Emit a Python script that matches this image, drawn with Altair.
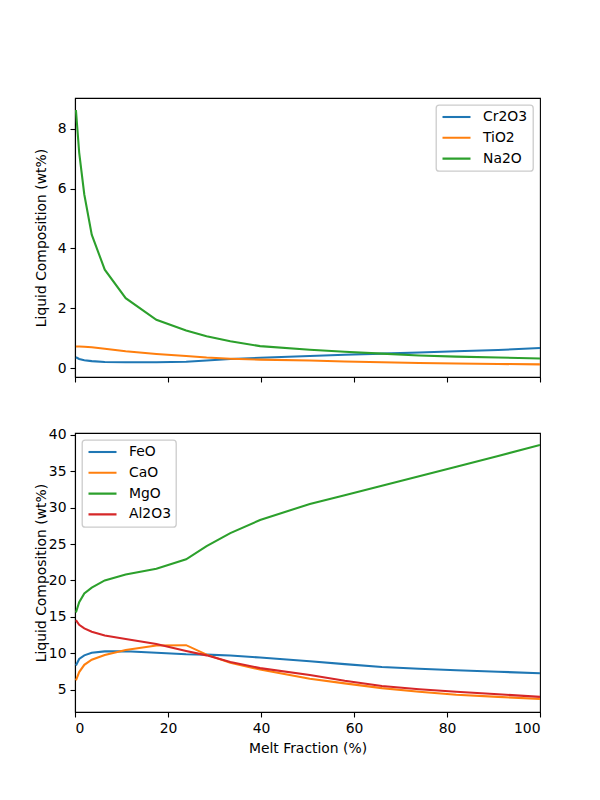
import altair as alt
import pandas as pd

# Melt fraction steps (%) shared by every oxide series
melt = [0.2, 0.9, 2.0, 3.6, 6.4, 10.9, 17.5, 23.9, 28.3, 33.4, 39.8,
        50.5, 58, 66, 74, 82, 91, 100]

# Minor oxides (wt%)
cr2o3 = [0.37, 0.31, 0.27, 0.24, 0.21, 0.20, 0.20, 0.22, 0.26, 0.31, 0.35,
         0.41, 0.45, 0.49, 0.53, 0.57, 0.61, 0.68]
tio2 = [0.73, 0.73, 0.72, 0.70, 0.65, 0.57, 0.48, 0.41, 0.36, 0.32, 0.29,
        0.26, 0.23, 0.20, 0.18, 0.16, 0.145, 0.13]
na2o = [8.62, 7.2, 5.8, 4.46, 3.29, 2.34, 1.62, 1.26, 1.07, 0.90, 0.74,
        0.62, 0.55, 0.49, 0.43, 0.39, 0.36, 0.33]

# Major oxides (wt%)
feo = [8.3, 9.2, 9.7, 10.05, 10.25, 10.27, 10.05, 9.85, 9.8, 9.68, 9.4,
       8.9, 8.5, 8.1, 7.85, 7.65, 7.45, 7.25]
cao = [6.25, 7.4, 8.4, 9.1, 9.75, 10.45, 11.05, 11.1, 9.8, 8.7, 7.75,
       6.5, 5.85, 5.2, 4.7, 4.3, 4.0, 3.7]
mgo = [15.6, 17.0, 18.2, 19.0, 20.0, 20.8, 21.6, 22.9, 24.7, 26.5, 28.3,
       30.5, 31.7, 33.0, 34.3, 35.6, 37.1, 38.6]
al2o3 = [14.55, 13.9, 13.4, 12.95, 12.43, 11.95, 11.25, 10.3, 9.7, 8.8, 7.95,
         7.0, 6.2, 5.5, 5.05, 4.7, 4.35, 4.0]

minor_names = ["Cr2O3", "TiO2", "Na2O"]
major_names = ["FeO", "CaO", "MgO", "Al2O3"]
palette = ["#1f77b4", "#ff7f0e", "#2ca02c", "#d62728"]

FONT = "DejaVu Sans"
FS = 13.9
LINE_W = 2.08
PANEL_W, PANEL_H = 465, 279


def to_long(names, series):
    rows = []
    for name, vals in zip(names, series):
        for m, v in zip(melt, vals):
            rows.append({"melt": m, "value": v, "oxide": name})
    return pd.DataFrame(rows)


minor_df = to_long(minor_names, [cr2o3, tio2, na2o])
major_df = to_long(major_names, [feo, cao, mgo, al2o3])


def y_axis(values):
    return alt.Axis(
        title="Liquid Composition (wt%)", values=values, grid=False,
        tickSize=5, labelPadding=4, minExtent=26, maxExtent=26,
        titlePadding=1, titleFontWeight="normal",
    )


def legend(orient):
    return alt.Legend(
        title=None, orient=orient, offset=7, symbolType="stroke",
        symbolSize=784, symbolStrokeWidth=LINE_W, labelOffset=11,
        clipHeight=14, rowPadding=6.8, padding=5,
        fillColor="rgba(255,255,255,0.8)", strokeColor="#cccccc",
        cornerRadius=3,
    )


x_top = alt.X("melt:Q", scale=alt.Scale(domain=[0, 100], nice=False),
              axis=alt.Axis(values=[0, 20, 40, 60, 80, 100], labels=False,
                            title=None, grid=False, tickSize=5))
x_bottom = alt.X("melt:Q", scale=alt.Scale(domain=[0, 100], nice=False),
                 axis=alt.Axis(values=[0, 20, 40, 60, 80, 100], grid=False,
                               tickSize=5, labelPadding=4,
                               title="Melt Fraction (%)", titlePadding=7,
                               titleFontWeight="normal"))

top = alt.Chart(minor_df).mark_line(strokeWidth=LINE_W, clip=True).encode(
    x=x_top,
    y=alt.Y("value:Q", scale=alt.Scale(domain=[-0.29, 9.02], nice=False, zero=False),
            axis=y_axis([0, 2, 4, 6, 8])),
    color=alt.Color("oxide:N", sort=minor_names,
                    scale=alt.Scale(domain=minor_names, range=palette[:3]),
                    legend=legend("top-right")),
).properties(width=PANEL_W, height=PANEL_H)

bottom = alt.Chart(major_df).mark_line(strokeWidth=LINE_W, clip=True).encode(
    x=x_bottom,
    y=alt.Y("value:Q", scale=alt.Scale(domain=[1.92, 40.25], nice=False, zero=False),
            axis=y_axis([5, 10, 15, 20, 25, 30, 35, 40])),
    color=alt.Color("oxide:N", sort=major_names,
                    scale=alt.Scale(domain=major_names, range=palette),
                    legend=legend("top-left")),
).properties(width=PANEL_W, height=PANEL_H)

chart = alt.vconcat(top, bottom, spacing=56, bounds="flush").resolve_scale(
    color="independent"
).properties(
    padding={"left": 33, "top": 97, "right": 10, "bottom": 10},
).configure_view(
    stroke="black", strokeWidth=1.1
).configure_axis(
    domainColor="black", tickColor="black", labelColor="black",
    titleColor="black", domainWidth=1.1, tickWidth=1.1,
    labelFont=FONT, titleFont=FONT, labelFontSize=FS, titleFontSize=FS,
).configure_legend(
    labelFont=FONT, labelFontSize=FS, labelColor="black",
    strokeWidth=1.3,
)

chart.save("out.html", embed_options={"renderer": "svg", "actions": False})
